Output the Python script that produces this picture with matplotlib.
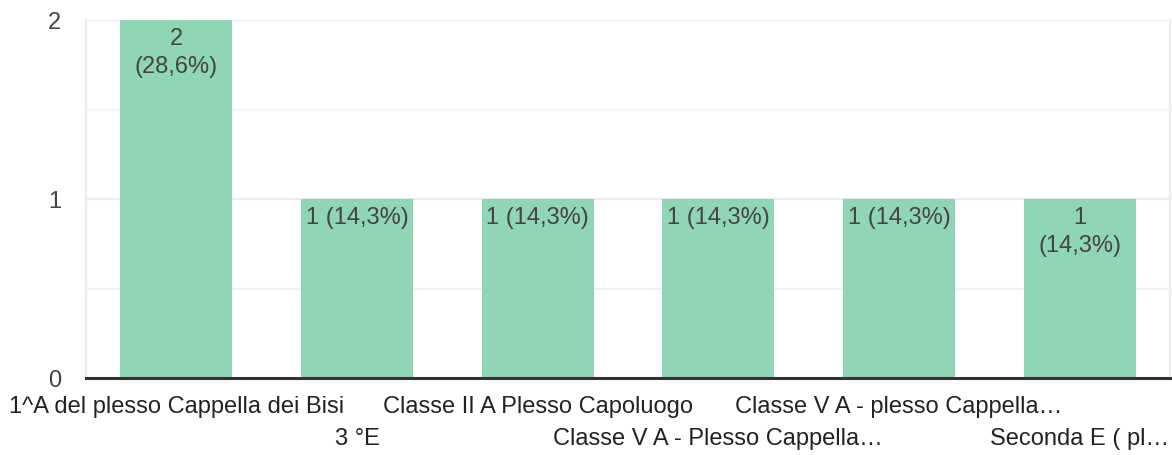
import matplotlib.pyplot as plt

plt.rcParams['font.family'] = ['Liberation Sans', 'DejaVu Sans']

categorie = ['1^A del plesso Cappella dei Bisi', '3 °E', 'Classe II A Plesso Capoluogo',
             'Classe V A - Plesso Cappella…', 'Classe V A - plesso Cappella…', 'Seconda E ( pl…']
valori = [2, 1, 1, 1, 1, 1]
etichette = ['2\n(28,6%)', '1 (14,3%)', '1 (14,3%)', '1 (14,3%)', '1 (14,3%)', '1\n(14,3%)']

fig = plt.figure(figsize=(11.72, 4.55), dpi=100)
ax = fig.add_axes([0.0734, 0.1692, 0.9249, 0.7868])

x = list(range(len(categorie)))
barre = ax.bar(x, valori, width=0.62, color='#8fd5b6', zorder=3)
for b, et in zip(barre, etichette):
    ax.annotate(et, (b.get_x() + b.get_width() / 2, b.get_height()),
                xytext=(0, -5.5), textcoords='offset points', ha='center', va='top',
                fontsize=17, color='#444444', linespacing=1.35, zorder=4)

ax.set_xlim(-0.5, len(categorie) - 0.5)
ax.set_ylim(0, 2)
ax.set_yticks([0, 1, 2])
ax.set_yticks([0.5, 1.5], minor=True)
ax.tick_params(axis='y', which='both', length=0, labelsize=17, labelcolor='#444444', pad=18)
ax.grid(axis='y', which='major', color='#ececec', linewidth=1.5, zorder=0)
ax.grid(axis='y', which='minor', color='#f3f3f3', linewidth=1.5, zorder=0)

ax.set_xticks(x)
ax.set_xticklabels([])
ax.tick_params(axis='x', length=0)
for i, c in enumerate(categorie):
    ax.annotate(c, (i, 0), xycoords=('data', 'axes fraction'),
                xytext=(0, -13 if i % 2 == 0 else -36), textcoords='offset points',
                ha='center', va='top', fontsize=17, color='#222222', annotation_clip=False)

ax.spines['top'].set_visible(False)
ax.spines['left'].set_color('#ececec')
ax.spines['right'].set_color('#ececec')
ax.spines['left'].set_linewidth(1.5)
ax.spines['right'].set_linewidth(1.5)
ax.spines['bottom'].set_color('#333333')
ax.spines['bottom'].set_linewidth(2.2)
ax.spines['bottom'].set_zorder(5)

fig.savefig('out.png', dpi=100)
